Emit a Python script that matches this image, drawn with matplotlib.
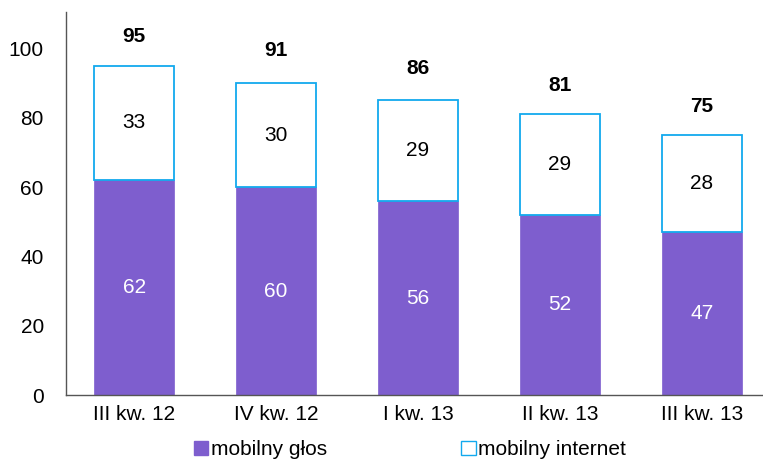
import matplotlib.pyplot as plt
from matplotlib.patches import Patch

plt.rcParams["font.family"] = ["Liberation Sans", "DejaVu Sans"]

quarters = ["III kw. 12", "IV kw. 12", "I kw. 13", "II kw. 13", "III kw. 13"]
voice = [62, 60, 56, 52, 47]
internet = [33, 30, 29, 29, 28]
totals = [95, 91, 86, 81, 75]

PURPLE = "#7E5ECE"
CYAN = "#12A9EE"

fig = plt.figure(figsize=(7.63, 4.61), dpi=100)
ax = fig.add_axes([0.0865, 0.143, 0.9135, 0.831])

x = range(len(quarters))
width = 0.56
ax.bar(x, voice, width, color=PURPLE, edgecolor=PURPLE, linewidth=0.5)
ax.bar(x, internet, width, bottom=voice, color="white", edgecolor=CYAN, linewidth=1.3)

for i in x:
    ax.text(i, voice[i] / 2, str(voice[i]), ha="center", va="center",
            color="white", fontsize=15)
    ax.text(i, voice[i] + internet[i] / 2, str(internet[i]), ha="center",
            va="center", color="black", fontsize=15)
    ax.text(i, totals[i] + 8.3, str(totals[i]), ha="center", va="center",
            color="black", fontsize=15, fontweight="bold")

ax.set_xlim(-0.48, 4.43)
ax.set_ylim(0, 110.5)
ax.set_yticks([0, 20, 40, 60, 80, 100])
ax.set_xticks(list(x))
ax.set_xticklabels(quarters)
ax.tick_params(axis="both", length=0, labelsize=15, pad=7)
ax.tick_params(axis="y", pad=16)
for s in ["top", "right"]:
    ax.spines[s].set_visible(False)
for s in ["left", "bottom"]:
    ax.spines[s].set_color("#555555")
    ax.spines[s].set_linewidth(1.0)

handles = [Patch(facecolor=PURPLE, edgecolor=PURPLE, label="mobilny głos"),
           Patch(facecolor="white", edgecolor=CYAN, label="mobilny internet")]
fig.legend(handles=handles, loc="center", bbox_to_anchor=(0.537, 0.024), ncol=2,
           frameon=False, fontsize=15, handlelength=0.7, handleheight=0.7,
           handletextpad=0.1, columnspacing=6.45, borderaxespad=0)

fig.savefig("out.png", dpi=100)
